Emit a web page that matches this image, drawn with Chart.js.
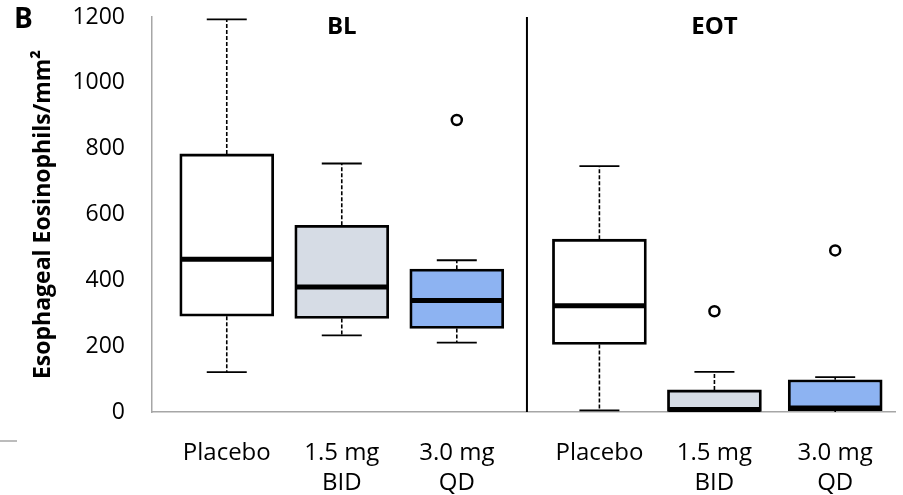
<!DOCTYPE html>
<html>
<head>
<meta charset="utf-8">
<script src="https://cdn.jsdelivr.net/npm/chart.js@4.4.0/dist/chart.umd.min.js"></script>
<style>
  html, body { margin: 0; padding: 0; background: #fff; }
  #wrap { width: 903px; height: 495px; }
</style>
</head>
<body>
<div id="wrap"><canvas id="chart"></canvas></div>
<script>
// groups: BL then EOT
const groupLabels = [["Placebo"], ["1.5 mg", "BID"], ["3.0 mg", "QD"], ["Placebo"], ["1.5 mg", "BID"], ["3.0 mg", "QD"]];
const xPos = [1, 2, 3, 4.24, 5.24, 6.29];
const panelNames = ["BL", "EOT"];
const panelCenter = [1, 4];     // index of group under each panel title
const dividerX = 3.61;

const whiskerLow = [121, 233, 211, 5, 0, 0];
const q1 = [291, 284, 254, 205, 2, 4];
const median = [464, 380, 339, 323, 4, 12];
const q3 = [784, 567, 434, 525, 67, 98];
const whiskerHigh = [1193, 755, 461, 747, 122, 106];

const outlierGroup = [2, 4, 5];
const outlierValue = [887, 306, 491];

const yTicks = [0, 200, 400, 600, 800, 1000, 1200];

const FONT = "'Open Sans', 'Noto Sans', sans-serif";

// whiskers, medians, divider and panel titles
const boxPlot = {
  id: "boxPlot",
  beforeDatasetsDraw(chart) {
    const { ctx, scales: { x, y } } = chart;
    ctx.save();
    ctx.strokeStyle = "#000";
    xPos.forEach((v, i) => {
      const px = x.getPixelForValue(v);
      ctx.lineWidth = 1.6;
      ctx.setLineDash([4, 2]);
      ctx.beginPath();
      ctx.moveTo(px, y.getPixelForValue(q3[i]));
      ctx.lineTo(px, y.getPixelForValue(whiskerHigh[i]));
      ctx.moveTo(px, y.getPixelForValue(q1[i]));
      ctx.lineTo(px, y.getPixelForValue(whiskerLow[i]));
      ctx.stroke();
      ctx.setLineDash([]);
      ctx.lineWidth = 1.8;
      ctx.beginPath();
      [whiskerHigh[i], whiskerLow[i]].forEach((w) => {
        if (w <= 0) return;
        const py = y.getPixelForValue(w);
        ctx.moveTo(px - 20, py);
        ctx.lineTo(px + 20, py);
      });
      ctx.stroke();
    });
    ctx.restore();
  },
  afterDatasetsDraw(chart) {
    const { ctx, chartArea, scales: { x, y } } = chart;
    ctx.save();
    // medians
    ctx.strokeStyle = "#000";
    ctx.lineWidth = 5;
    xPos.forEach((v, i) => {
      const px = x.getPixelForValue(v);
      const py = Math.min(y.getPixelForValue(median[i]), chartArea.bottom - 2.5);
      ctx.beginPath();
      ctx.moveTo(px - 46, py);
      ctx.lineTo(px + 46, py);
      ctx.stroke();
    });
    // divider between BL and EOT
    ctx.lineWidth = 2;
    const dx = x.getPixelForValue(dividerX);
    ctx.beginPath();
    ctx.moveTo(dx, chartArea.top);
    ctx.lineTo(dx, chartArea.bottom);
    ctx.stroke();
    // panel titles
    ctx.fillStyle = "#000";
    ctx.font = "bold 24px " + FONT;
    ctx.textAlign = "center";
    ctx.textBaseline = "middle";
    panelNames.forEach((name, k) => {
      ctx.fillText(name, x.getPixelForValue(xPos[panelCenter[k]]), chartArea.top + 10);
    });
    // figure letter
    ctx.font = "bold 28px " + FONT;
    ctx.textAlign = "left";
    ctx.fillText("B", 14, 20);
    // small stray rule at bottom left
    ctx.strokeStyle = "#a6a6a6";
    ctx.lineWidth = 1.5;
    ctx.beginPath();
    ctx.moveTo(0, 441);
    ctx.lineTo(17, 441);
    ctx.stroke();
    ctx.restore();
  },
};

const ctx = document.getElementById("chart").getContext("2d");
new Chart(ctx, {
  type: "bar",
  data: {
    datasets: [
      {
        type: "scatter",
        data: outlierGroup.map((g, k) => ({ x: xPos[g], y: outlierValue[k] })),
        pointStyle: "circle",
        pointRadius: 5,
        pointBorderWidth: 2.5,
        pointBorderColor: "#000",
        pointBackgroundColor: "#fff",
      },
      {
        type: "bar",
        data: xPos.map((v, i) => ({ x: v, y: [q1[i], q3[i]] })),
        backgroundColor: ["#ffffff", "#d6dce5", "#8db3f2", "#ffffff", "#d6dce5", "#8db3f2"],
        borderColor: "#000",
        borderWidth: 2.8,
        borderSkipped: false,
        barThickness: 94,
        grouped: false,
      },
    ],
  },
  options: {
    responsive: true,
    maintainAspectRatio: false,
    animation: false,
    layout: { padding: { top: 17, right: 8, left: 0, bottom: 0 } },
    plugins: { legend: { display: false }, tooltip: { enabled: false } },
    scales: {
      x: {
        type: "linear",
        offset: false,
        min: 0.35,
        max: 6.81,
        grid: { display: false, drawTicks: true, tickLength: 27 },
        border: { display: true, color: "#a6a6a6", width: 1.5 },
        afterBuildTicks: (axis) => {
          axis.ticks = xPos.map((v) => ({ value: v }));
        },
        afterFit: (axis) => {
          axis.height = 83;
        },
        ticks: {
          autoSkip: false,
          maxRotation: 0,
          padding: 0,
          color: "#000",
          font: { family: FONT, size: 24, lineHeight: 1.22 },
          callback: (value, index) => groupLabels[index],
        },
      },
      y: {
        min: 0,
        max: 1200,
        grid: { display: false, drawTicks: true, tickLength: 27 },
        border: { display: true, color: "#a6a6a6", width: 1.5 },
        afterBuildTicks: (axis) => {
          axis.ticks = yTicks.map((v) => ({ value: v }));
        },
        afterFit: (axis) => {
          axis.width = 152;
        },
        ticks: {
          padding: 0,
          color: "#000",
          font: { family: FONT, size: 23 },
          callback: (v) => String(v),
        },
        title: {
          display: true,
          text: "Esophageal Eosinophils/mm²",
          color: "#000",
          font: { family: FONT, size: 23, weight: "bold" },
          padding: { top: 30, bottom: 0 },
        },
      },
    },
  },
  plugins: [boxPlot],
});
</script>
</body>
</html>
